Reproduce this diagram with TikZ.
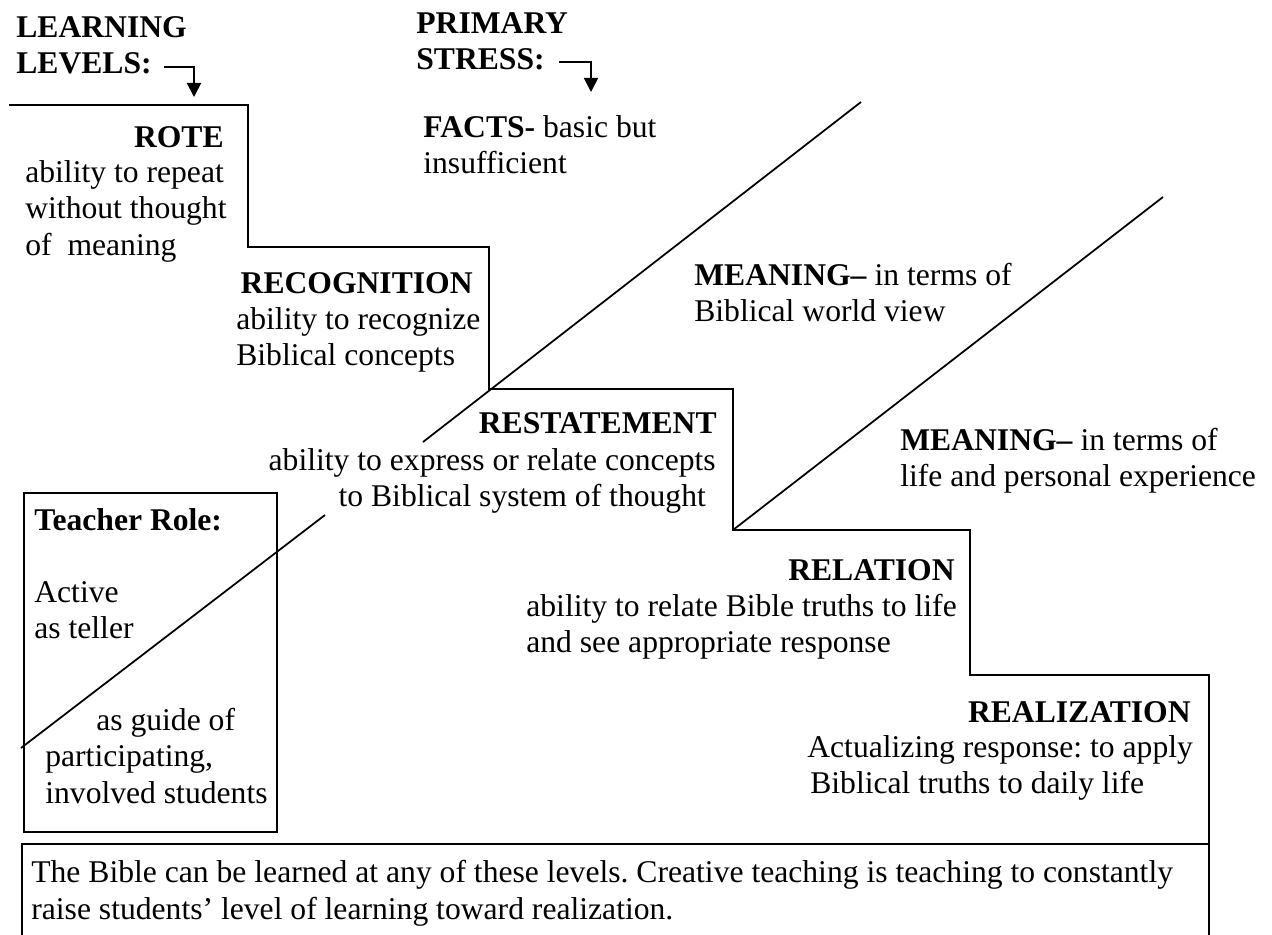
\documentclass[tikz,border=0pt]{standalone}
\usepackage{fontspec}
\setmainfont{Liberation Serif}
\usetikzlibrary{arrows.meta}
\frenchspacing

\begin{document}
\begin{tikzpicture}[x=0.02cm,y=-0.02cm,
    txt/.style={inner sep=0pt,align=left,font=\fontsize{18}{20.7}\selectfont},
    hd/.style={inner sep=0pt,align=left,font=\bfseries\fontsize{18}{20.7}\selectfont},
    stair/.style={line width=1.1pt},
    diag/.style={line width=1pt},
    ptr/.style={line width=1pt,-{Triangle[length=8pt,width=8pt]}}
    ]
\useasboundingbox (0,0) rectangle (1272,934);

% Column headings
\node[hd,anchor=north west] (levels) at (16,16) {LEARNING\\LEVELS:};
\node[hd,anchor=north west] (stress) at (416,12) {PRIMARY\\STRESS:};
\coordinate (lvA) at (164,67);
\coordinate (lvB) at (194,97);
\coordinate (stA) at (559,62);
\coordinate (stB) at (591,92);
\draw[ptr] (lvA) -| (lvB);
\draw[ptr] (stA) -| (stB);

% Staircase of levels
\draw[stair] (9,105) -| (248,247) -| (489,389) -| (733,530) -| (970,675) -| (1209,844);

% Stress lines
\coordinate (dA1) at (861,102);
\coordinate (dA2) at (423,442);
\coordinate (dB1) at (1163,197);
\coordinate (dB2) at (733,530);
\coordinate (dC1) at (325,515);
\coordinate (dC2) at (21,748);
\draw[diag] (dA1) -- (dA2);
\draw[diag] (dB1) -- (dB2);
\draw[diag] (dC1) -- (dC2);

% Levels
\node[hd,anchor=north east] (rote) at (224,126) {ROTE};
\node[txt,anchor=north west] (roteTxt) at (25,160) {ability to repeat\\without thought\\of\ \ meaning};
\node[hd,anchor=north east] (recog) at (473,272) {RECOGNITION};
\node[txt,anchor=north west] (recogTxt) at (236,307) {ability to recognize\\Biblical concepts};
\node[hd,anchor=north east] (restate) at (717,412) {RESTATEMENT};
\node[txt,align=right,anchor=north east] (restateTxt) at (716,448) {ability to express or relate concepts\\to Biblical system of thought\hspace*{5.6pt}};
\node[hd,anchor=north east] (relation) at (955,559) {RELATION};
\node[txt,anchor=north west] (relationTxt) at (526,594) {ability to relate Bible truths to life\\and see appropriate response};
\node[hd,anchor=north east] (realize) at (1191,701) {REALIZATION};
\node[txt,anchor=north west] (realizeTxt) at (807,735) {Actualizing response: to apply\\\hspace*{1.7pt}Biblical truths to daily life};

% Stress
\node[txt,anchor=north west] (facts) at (423,115) {\textbf{FACTS-} basic but\\insufficient};
\node[txt,anchor=north west] (meanA) at (694,263) {\textbf{MEANING--} in terms of\\Biblical world view};
\node[txt,anchor=north west] (meanB) at (900,428) {\textbf{MEANING--} in terms of\\life and personal experience};

% Teacher role box
\draw[stair] (24,493) rectangle (277,832);
\node[hd,anchor=north west] (role) at (34,508) {Teacher Role:};
\node[txt,anchor=north west] (teller) at (34,581) {Active\\as teller};
\node[txt,anchor=north west] (guide) at (45,708) {\hspace*{29pt}as guide of\\participating,\\involved students};

% Note box
\draw[stair] (22,844) rectangle (1209,960);
\node[txt,anchor=north west] (note) at (31,860) {The Bible can be learned at any of these levels. Creative teaching is teaching to constantly\\raise students' level of learning toward realization.};

\end{tikzpicture}
\end{document}
